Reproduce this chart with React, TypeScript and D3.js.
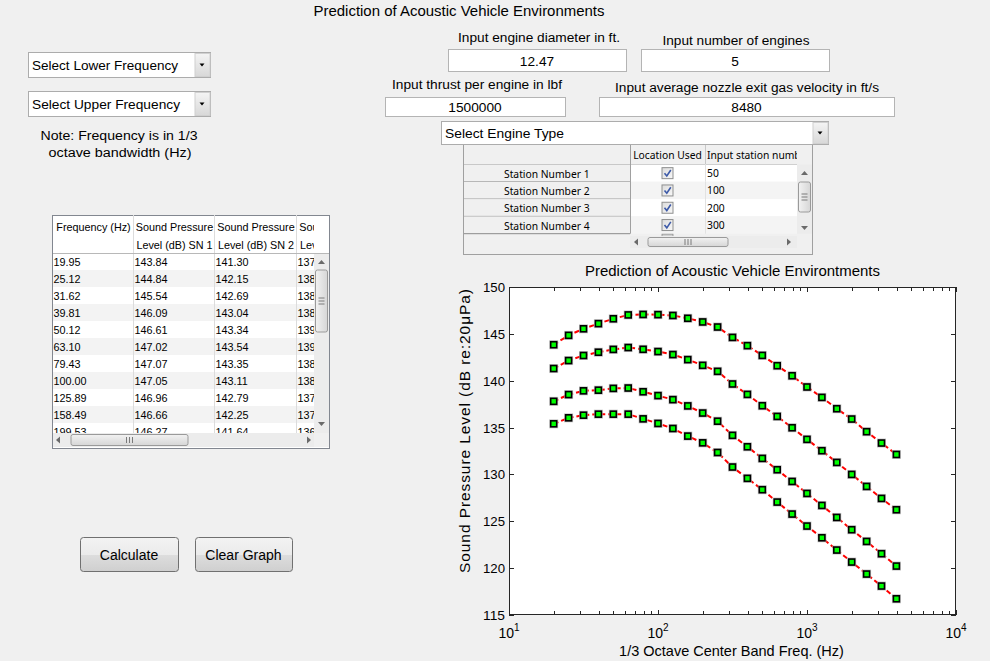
import React from 'react';
import * as d3 from 'd3';

// ---------- DATA ----------
const freqs = [19.95, 25.12, 31.62, 39.81, 50.12, 63.1, 79.43, 100.0, 125.89, 158.49, 199.53, 251.19,
  316.23, 398.11, 501.19, 630.96, 794.33, 1000.0, 1258.93, 1584.89, 1995.26, 2511.89, 3162.28, 3981.07];
const splSN1 = [143.84, 144.84, 145.54, 146.09, 146.61, 147.02, 147.07, 147.05, 146.96, 146.66, 146.27, 145.73,
  144.62, 143.74, 142.7, 141.6, 140.53, 139.33, 138.22, 137.01, 135.91, 134.56, 133.35, 132.13];
const splSN2 = [141.3, 142.15, 142.69, 143.04, 143.34, 143.54, 143.35, 143.11, 142.79, 142.25, 141.64, 141.0,
  139.65, 138.54, 137.33, 136.19, 134.98, 133.74, 132.53, 131.28, 130.0, 128.72, 127.44, 126.23];
const splSN3 = [137.8, 138.52, 138.92, 138.99, 139.18, 139.22, 138.82, 138.41, 137.98, 137.31, 136.55, 135.68,
  134.17, 132.95, 131.71, 130.5, 129.25, 127.97, 126.69, 125.41, 124.1, 122.85, 121.54, 120.22];
const splSN4 = [135.4, 136.04, 136.32, 136.43, 136.43, 136.43, 135.93, 135.44, 134.9, 134.09, 133.37, 132.34,
  130.79, 129.58, 128.37, 127.05, 125.77, 124.49, 123.24, 121.93, 120.65, 119.37, 118.09, 116.73];
const seriesList = [splSN1, splSN2, splSN3, splSN4];
const yTicks = [115, 120, 125, 130, 135, 140, 145, 150];
const xDecades = [1, 2, 3, 4];
const tableCols = ['Frequency (Hz)', 'Sound Pressure|Level (dB) SN 1', 'Sound Pressure|Level (dB) SN 2', 'Sound Pressure|Level (dB) SN 3'];
const stationNames = ['Station Number 1', 'Station Number 2', 'Station Number 3', 'Station Number 4'];
const stationUsed = [true, true, true, true];
const stationInputs = ['50', '100', '200', '300'];

const FONT = "'Liberation Sans', Arial, Helvetica, sans-serif";
const UI = "'Noto Sans', 'DejaVu Sans', sans-serif";

function Arrow({ cx, cy, dir }: { cx: number; cy: number; dir: string }) {
  let d = '';
  if (dir === 'up') d = `M${cx - 3.5},${cy + 2} L${cx + 3.5},${cy + 2} L${cx},${cy - 2} Z`;
  if (dir === 'down') d = `M${cx - 3.5},${cy - 2} L${cx + 3.5},${cy - 2} L${cx},${cy + 2} Z`;
  if (dir === 'left') d = `M${cx + 2},${cy - 3.5} L${cx + 2},${cy + 3.5} L${cx - 2},${cy} Z`;
  if (dir === 'right') d = `M${cx - 2},${cy - 3.5} L${cx - 2},${cy + 3.5} L${cx + 2},${cy} Z`;
  return <path d={d} fill="#6a6a6a" />;
}

function VScroll({ x, y, w, h, t0, t1, up, down }: any) {
  const cx = x + w / 2;
  const tm = (t0 + t1) / 2;
  return (
    <g>
      <rect x={x} y={y} width={w} height={h} fill="#ececec" />
      <Arrow cx={cx} cy={up} dir="up" />
      <Arrow cx={cx} cy={down} dir="down" />
      <rect x={x + 1.5} y={t0} width={w - 3} height={t1 - t0} rx={2} fill="url(#thumbV)" stroke="#9a9a9a" />
      {[-3, 0, 3].map((o) => (
        <line key={o} x1={cx - 3} x2={cx + 3} y1={tm + o} y2={tm + o} stroke="#7a7a7a" />
      ))}
    </g>
  );
}

function HScroll({ x, y, w, h, t0, t1, left, right }: any) {
  const cy = y + h / 2;
  const tm = (t0 + t1) / 2;
  return (
    <g>
      <rect x={x} y={y} width={w} height={h} fill="#ececec" />
      <Arrow cx={left} cy={cy} dir="left" />
      <Arrow cx={right} cy={cy} dir="right" />
      <rect x={t0} y={y + 1.5} width={t1 - t0} height={h - 3} rx={2} fill="url(#thumbH)" stroke="#9a9a9a" />
      {[-3, 0, 3].map((o) => (
        <line key={o} x1={tm + o} x2={tm + o} y1={cy - 3} y2={cy + 3} stroke="#7a7a7a" />
      ))}
    </g>
  );
}

function Popup({ x, y, w, h, label, tw }: any) {
  return (
    <g>
      <rect x={x + 0.5} y={y + 0.5} width={w} height={h} fill="#fff" stroke="#acacac" />
      <rect x={x + w - 15} y={y + 1.5} width={15} height={h - 2} fill="url(#btnG)" stroke="#d0d0d0" />
      <path d={`M${x + w - 10.5},${y + h / 2 - 1} L${x + w - 5.5},${y + h / 2 - 1} L${x + w - 8},${y + h / 2 + 2} Z`} fill="#000" />
      <text x={x + 4} y={y + h / 2 + 1} fontSize={13.5} fontFamily={FONT} dominantBaseline="central" textLength={tw} lengthAdjust="spacingAndGlyphs" fill="#000">{label}</text>
    </g>
  );
}

function Label({ cx, cy, text, tw, size = 13.7 }: any) {
  return (
    <text x={cx} y={cy} fontSize={size} fontFamily={FONT} textAnchor="middle" dominantBaseline="central" textLength={tw} lengthAdjust="spacingAndGlyphs" fill="#000">{text}</text>
  );
}

function TextBox({ x0, x1, y0, y1, value }: any) {
  return (
    <g>
      <rect x={x0 + 0.5} y={y0 + 0.5} width={x1 - x0} height={y1 - y0} fill="#fff" stroke="#b4b4b4" />
      <text x={(x0 + x1) / 2} y={(y0 + y1) / 2 + 1} fontSize={13.7} fontFamily={FONT} textAnchor="middle" dominantBaseline="central" fill="#000">{value}</text>
    </g>
  );
}

function Button({ x0, x1, y0, y1, label }: any) {
  return (
    <g>
      <rect x={x0 + 0.5} y={y0 + 0.5} width={x1 - x0} height={y1 - y0} rx={3} fill="url(#pushG)" stroke="#707070" />
      <text x={(x0 + x1) / 2} y={(y0 + y1) / 2 + 1} fontSize={14} fontFamily={FONT} textAnchor="middle" dominantBaseline="central" fill="#000">{label}</text>
    </g>
  );
}

export default function App() {
  const fmt = d3.format('.2f');
  // plot scales
  const x = d3.scaleLog().domain([10, 10000]).range([509, 956]);
  const y = d3.scaleLinear().domain([115, 150]).range([615, 287]);
  const line = d3.line<number>().x((_, i) => x(freqs[i])).y((d) => y(d));
  const [px0, px1] = x.range();
  const [py0, py1] = [y.range()[1], y.range()[0]];

  const minorTicks: number[] = [];
  [10, 100, 1000].forEach((dec) => {
    for (let k = 2; k <= 9; k++) minorTicks.push(k * dec);
  });

  // left table geometry
  const tX = [52, 133, 214, 296, 378];
  const tTop = 215, tHead = 253, rowH = 17;
  const rows = d3.range(11);
  const TF = 10.8;

  // station table geometry
  const sTop = 144, sHead = 164.5, sRowH = 17.3;

  return (
    <svg width={990} height={661} style={{ position: 'absolute', left: 0, top: 0, display: 'block' }}>
      <defs>
        <linearGradient id="btnG" x1="0" y1="0" x2="0" y2="1">
          <stop offset="0" stopColor="#f4f4f4" />
          <stop offset="1" stopColor="#d8d8d8" />
        </linearGradient>
        <linearGradient id="pushG" x1="0" y1="0" x2="0" y2="1">
          <stop offset="0" stopColor="#f3f3f3" />
          <stop offset="0.5" stopColor="#ebebeb" />
          <stop offset="0.51" stopColor="#dddddd" />
          <stop offset="1" stopColor="#cfcfcf" />
        </linearGradient>
        <linearGradient id="thumbV" x1="0" y1="0" x2="1" y2="0">
          <stop offset="0" stopColor="#f2f2f2" />
          <stop offset="1" stopColor="#d6d6d6" />
        </linearGradient>
        <linearGradient id="thumbH" x1="0" y1="0" x2="0" y2="1">
          <stop offset="0" stopColor="#f2f2f2" />
          <stop offset="1" stopColor="#d6d6d6" />
        </linearGradient>
        <linearGradient id="chkG" x1="0" y1="0" x2="1" y2="1">
          <stop offset="0" stopColor="#dcdcdc" />
          <stop offset="1" stopColor="#f8f8f8" />
        </linearGradient>
        <clipPath id="tblClip">
          <rect x={52} y={tTop} width={262} height={433 - tTop} />
        </clipPath>
        <clipPath id="stClip">
          <rect x={705} y={sTop} width={92} height={100} />
        </clipPath>
      </defs>

      <rect x={0} y={0} width={990} height={661} fill="#f0f0f0" />

      {/* Top title */}
      <Label cx={459} cy={11} text="Prediction of Acoustic Vehicle Environments" tw={291} size={14} />

      {/* Frequency popups */}
      <Popup x={28} y={52} w={182} h={25} label="Select Lower Frequency" tw={146} />
      <Popup x={28} y={91} w={182} h={25} label="Select Upper Frequency" tw={148} />
      <Label cx={119} cy={135} text="Note: Frequency is in 1/3" tw={157} />
      <Label cx={120} cy={152} text="octave bandwidth (Hz)" tw={143} />

      {/* Inputs */}
      <Label cx={539} cy={37} text="Input engine diameter in ft." tw={162} />
      <TextBox x0={448} x1={626} y0={49} y1={71} value="12.47" />
      <Label cx={736} cy={40} text="Input number of engines" tw={147} />
      <TextBox x0={641} x1={829} y0={49} y1={71} value="5" />
      <Label cx={477} cy={84} text="Input thrust per engine in lbf" tw={170} />
      <TextBox x0={385} x1={565} y0={97} y1={116} value="1500000" />
      <Label cx={747} cy={87} text="Input average nozzle exit gas velocity in ft/s" tw={264} />
      <TextBox x0={599} x1={894} y0={97} y1={116} value="8480" />

      {/* Station table */}
      <g>
        <rect x={463.5} y={sTop + 0.5} width={349} height={110} fill="#f0f0f0" stroke="#a0a0a0" />
        <rect x={464} y={sTop + 1} width={333} height={sHead - sTop - 1} fill="#f0f0f0" />
        <line x1={464} x2={797} y1={sHead} y2={sHead} stroke="#a0a0a0" />
        <line x1={630.5} x2={630.5} y1={sTop} y2={sHead} stroke="#a0a0a0" />
        <line x1={705.5} x2={705.5} y1={sTop} y2={sHead} stroke="#c8c8c8" />
        <text x={667.5} y={(sTop + sHead) / 2 + 1} fontSize={10.3} fontFamily={UI} textAnchor="middle" dominantBaseline="central" fill="#000">Location Used</text>
        <g clipPath="url(#stClip)">
          <text x={707} y={(sTop + sHead) / 2 + 1} fontSize={10.3} fontFamily={UI} dominantBaseline="central" fill="#000">Input station number</text>
        </g>
        {stationNames.map((nm, i) => {
          const ry = sHead + i * sRowH;
          const cy = ry + sRowH / 2;
          return (
            <g key={nm}>
              <rect x={464} y={ry} width={166} height={sRowH} fill="#f0f0f0" />
              <line x1={464} x2={630} y1={ry + sRowH} y2={ry + sRowH} stroke="#8a8a8a" />
              <rect x={631} y={ry} width={166} height={sRowH} fill={i % 2 === 0 ? '#ffffff' : '#f4f4f4'} />
              <line x1={705.5} x2={705.5} y1={ry} y2={ry + sRowH} stroke="#e2e2e2" />
              <text x={546.8} y={cy + 0.5} fontSize={10.3} fontFamily={UI} textAnchor="middle" dominantBaseline="central" fill="#000">{nm}</text>
              {stationUsed[i] && (
                <g>
                  <rect x={662} y={cy - 5.5} width={11} height={11} fill="url(#chkG)" stroke="#8e8f8f" />
                  <path d={`M${664.5},${cy} L${666.8},${cy + 2.8} L${670.8},${cy - 3.2}`} fill="none" stroke="#3d5aa8" strokeWidth={1.6} />
                </g>
              )}
              <text x={707} y={cy} fontSize={10.3} fontFamily={UI} dominantBaseline="central" fill="#000">{stationInputs[i]}</text>
            </g>
          );
        })}
        <line x1={630.5} x2={630.5} y1={sHead} y2={sHead + 4 * sRowH} stroke="#a0a0a0" />
        <rect x={662} y={sHead + 4 * sRowH + 0.5} width={11} height={2} fill="#e0e0e0" stroke="#8e8f8f" strokeWidth={0.8} />
        <VScroll x={797} y={sHead} w={15} h={4 * sRowH} t0={182} t1={212} up={173} down={228} />
        <HScroll x={630} y={236} w={167} h={12} t0={648} t1={728} left={636} right={789} />
      </g>

      {/* Engine type popup */}
      <Popup x={441} y={121} w={387} h={23} label="Select Engine Type" tw={119} />

      {/* Left data table */}
      <g>
        <rect x={52.5} y={tTop + 0.5} width={277} height={233} fill="#fff" stroke="#828790" />
        {rows.map((r) => (
          <rect key={r} x={53} y={tHead + r * rowH} width={261} height={rowH} fill={r % 2 === 0 ? '#ffffff' : '#f3f3f3'} clipPath="url(#tblClip)" />
        ))}
        <g clipPath="url(#tblClip)">
          {tX.slice(1, 4).map((cx) => (
            <line key={cx} x1={cx + 0.5} x2={cx + 0.5} y1={tTop} y2={433} stroke="#dcdcdc" />
          ))}
          {tableCols.map((c, ci) => {
            const parts = c.split('|');
            const cx = (tX[ci] + tX[ci + 1]) / 2 + 1;
            return parts.length === 1 ? (
              <text key={c} x={cx} y={227} fontSize={TF} fontFamily={FONT} textAnchor="middle" dominantBaseline="central" fill="#000">{c}</text>
            ) : (
              <g key={c}>
                <text x={cx} y={227} fontSize={TF} fontFamily={FONT} textAnchor="middle" dominantBaseline="central" fill="#000">{parts[0]}</text>
                <text x={cx} y={245} fontSize={TF} fontFamily={FONT} textAnchor="middle" dominantBaseline="central" fill="#000">{parts[1]}</text>
              </g>
            );
          })}
          {rows.map((r) => {
            const cy = tHead + r * rowH + rowH / 2 + 0.5;
            const vals = [freqs[r], splSN1[r], splSN2[r], splSN3[r]];
            return (
              <g key={r}>
                {vals.map((v, ci) => (
                  <text key={ci} x={tX[ci] + 1.5} y={cy} fontSize={TF} fontFamily={FONT} dominantBaseline="central" fill="#000">{fmt(v)}</text>
                ))}
              </g>
            );
          })}
        </g>
        <line x1={53} x2={329} y1={tHead + 0.5} y2={tHead + 0.5} stroke="#b8b8b8" />
        <VScroll x={314} y={tHead + 1} w={15} h={433 - tHead - 1} t0={270} t1={332} up={262} down={424} />
        <HScroll x={53} y={433} w={261} h={14} t0={71} t1={188} left={58} right={309} />
        <rect x={314} y={433} width={15} height={14} fill="#f0f0f0" />
      </g>

      {/* Buttons */}
      <Button x0={80} x1={178} y0={537} y1={571} label="Calculate" />
      <Button x0={195} x1={292} y0={537} y1={571} label="Clear Graph" />

      {/* Chart */}
      <g>
        <text x={732.5} y={271} fontSize={14} fontFamily={FONT} textAnchor="middle" dominantBaseline="central" textLength={295} lengthAdjust="spacingAndGlyphs" fill="#000">Prediction of Acoustic Vehicle Environtments</text>
        <rect x={px0} y={py0} width={px1 - px0} height={py1 - py0} fill="#fff" />
        {seriesList.map((s, si) => (
          <path key={si} d={line(s) || ''} fill="none" stroke="#ff0000" strokeWidth={2} strokeDasharray="5,3" />
        ))}
        {seriesList.map((s, si) => (
          <g key={si}>
            {s.map((v, i) => (
              <g key={i}>
                <rect x={x(freqs[i]) - 4.5} y={y(v) - 4.5} width={9} height={9} fill="#b4b4b4" opacity={0.75} />
                <rect x={x(freqs[i]) - 3} y={y(v) - 3} width={6} height={6} fill="#00ff00" stroke="#000" strokeWidth={1.6} />
              </g>
            ))}
          </g>
        ))}
        <rect x={px0 + 0.5} y={py0 + 0.5} width={px1 - px0 - 1} height={py1 - py0 - 1} fill="none" stroke="#262626" />
        {xDecades.map((e) => {
          const xx = Math.round(x(10 ** e)) + 0.5;
          return (
            <g key={e}>
              <line x1={xx} x2={xx} y1={py1} y2={py1 - 5} stroke="#262626" />
              <line x1={xx} x2={xx} y1={py0} y2={py0 + 5} stroke="#262626" />
              <text x={x(10 ** e)} y={638} fontSize={14} fontFamily={FONT} textAnchor="middle" fill="#000">
                10<tspan dy={-7} fontSize={10}>{e}</tspan>
              </text>
            </g>
          );
        })}
        {minorTicks.map((t) => {
          const xx = Math.round(x(t)) + 0.5;
          return (
            <g key={t}>
              <line x1={xx} x2={xx} y1={py1} y2={py1 - 4} stroke="#262626" />
              <line x1={xx} x2={xx} y1={py0} y2={py0 + 4} stroke="#262626" />
            </g>
          );
        })}
        {yTicks.map((t) => {
          const yy = Math.round(y(t)) + 0.5;
          return (
            <g key={t}>
              <line x1={px0} x2={px0 + 5} y1={yy} y2={yy} stroke="#262626" />
              <line x1={px1} x2={px1 - 5} y1={yy} y2={yy} stroke="#262626" />
              <text x={505} y={y(t) + 0.5} fontSize={13.5} fontFamily={FONT} textAnchor="end" dominantBaseline="central" textLength={22} lengthAdjust="spacingAndGlyphs" fill="#000">{t}</text>
            </g>
          );
        })}
        <text x={731.5} y={651} fontSize={14.5} fontFamily={FONT} textAnchor="middle" dominantBaseline="central" fill="#000">1/3 Octave Center Band Freq. (Hz)</text>
        <text transform="translate(464,431) rotate(-90)" fontSize={15.5} fontFamily={FONT} textAnchor="middle" dominantBaseline="central" textLength={284} lengthAdjust="spacing" fill="#000">Sound Pressure Level (dB re:20μPa)</text>
      </g>
    </svg>
  );
}
